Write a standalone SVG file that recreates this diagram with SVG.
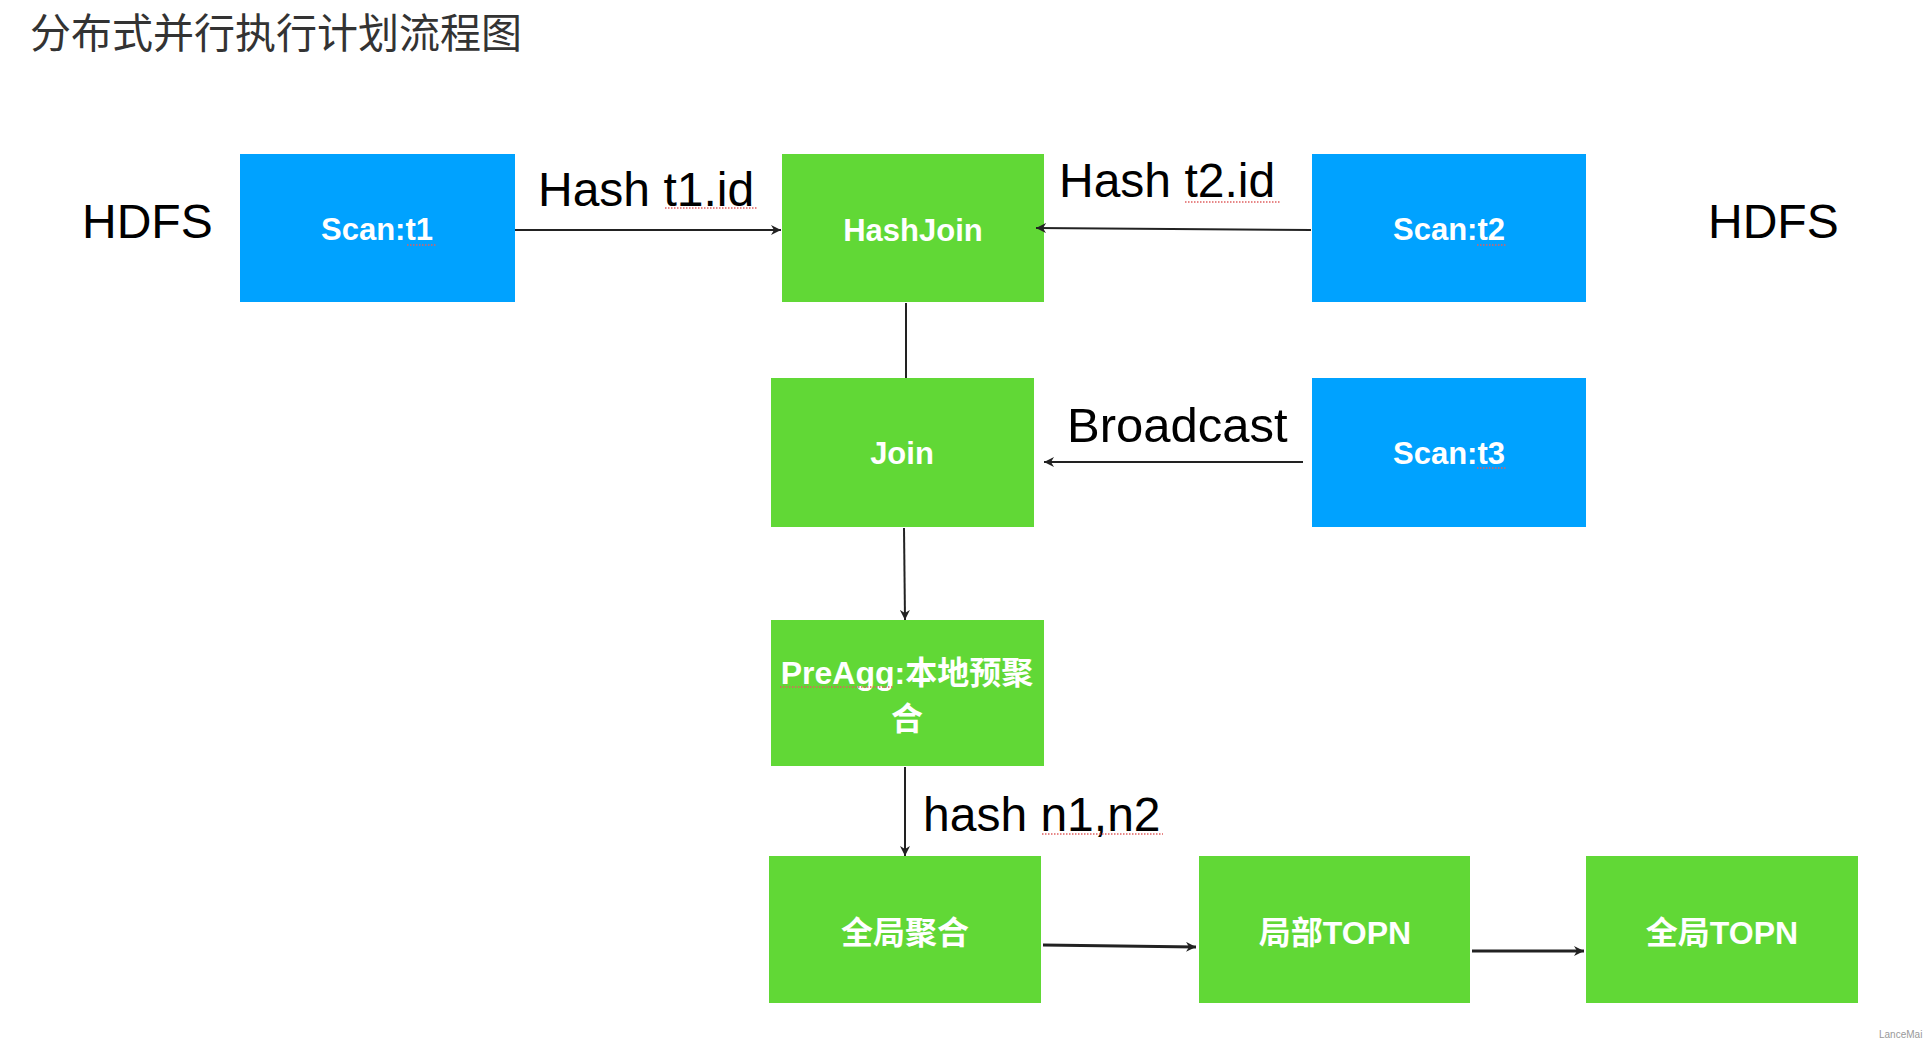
<svg xmlns="http://www.w3.org/2000/svg" width="1932" height="1049" viewBox="0 0 1932 1049">
<style>
.bg{fill:#ffffff}
.blue{fill:#00A2FF}
.green{fill:#61D836}
.lbl{font-family:"Liberation Sans","Noto Sans CJK SC",Arial,sans-serif;font-weight:bold;font-size:31px;fill:#ffffff;text-anchor:middle}
.cjk{font-family:"Liberation Sans","Noto Sans CJK SC",sans-serif;font-weight:bold;font-size:32px;fill:#ffffff;text-anchor:middle}
.big{font-family:"Liberation Sans",Arial,sans-serif;font-size:48px;fill:#000000}
.title{font-family:"Noto Sans CJK SC",sans-serif;font-size:41px;fill:#333333}
.edge{stroke:#222222;stroke-width:2;fill:none}
.edge3{stroke:#222222;stroke-width:3;fill:none}
.spell{stroke:#e06060;stroke-width:1.5;stroke-dasharray:1.5 1.5;fill:none}
.wm{font-family:"Liberation Sans",Arial,sans-serif;font-size:10px;fill:#999999}
</style>
<defs>
<marker id="arr" markerUnits="userSpaceOnUse" markerWidth="12" markerHeight="10" refX="10" refY="5" orient="auto">
<path d="M0,0 L10,5 L0,10 L3,5 z" fill="#222222"/>
</marker>
</defs>
<rect class="bg" x="0" y="0" width="1932" height="1049"/>
<text class="title" x="30" y="48">分布式并行执行计划流程图</text>

<text class="big" x="82" y="238">HDFS</text>
<text class="big" x="1708" y="238">HDFS</text>

<text class="big" x="538" y="206">Hash t1.id</text>
<text class="big" x="1059" y="197">Hash t2.id</text>
<text class="big" x="1067" y="442" style="font-size:49px">Broadcast</text>
<text class="big" x="923" y="831">hash n1,n2</text>

<g id="scan_t1">
<rect class="blue" x="240" y="154" width="275" height="148"/>
<text class="lbl" x="377" y="240">Scan:t1</text>
</g>
<g id="hashjoin">
<rect class="green" x="782" y="154" width="262" height="148"/>
<text class="lbl" x="913" y="241">HashJoin</text>
</g>
<g id="scan_t2">
<rect class="blue" x="1312" y="154" width="274" height="148"/>
<text class="lbl" x="1449" y="240">Scan:t2</text>
</g>
<g id="join">
<rect class="green" x="771" y="378" width="263" height="149"/>
<text class="lbl" x="902" y="464">Join</text>
</g>
<g id="scan_t3">
<rect class="blue" x="1312" y="378" width="274" height="149"/>
<text class="lbl" x="1449" y="464">Scan:t3</text>
</g>
<g id="preagg">
<rect class="green" x="771" y="620" width="273" height="146"/>
<text class="cjk" x="907" y="684">PreAgg:本地预聚</text>
<text class="cjk" x="907" y="730">合</text>
</g>
<g id="global_agg">
<rect class="green" x="769" y="856" width="272" height="147"/>
<text class="cjk" x="905" y="944">全局聚合</text>
</g>
<g id="local_topn">
<rect class="green" x="1199" y="856" width="271" height="147"/>
<text class="cjk" x="1335" y="944">局部TOPN</text>
</g>
<g id="global_topn">
<rect class="green" x="1586" y="856" width="272" height="147"/>
<text class="cjk" x="1722" y="944">全局TOPN</text>
</g>

<g id="connectors">
<line class="edge" x1="515" y1="230" x2="781" y2="230" marker-end="url(#arr)"/>
<line class="edge" x1="1311" y1="230" x2="1036" y2="228" marker-end="url(#arr)"/>
<line class="edge" x1="906" y1="303" x2="906" y2="378"/>
<line class="edge" x1="1303" y1="462" x2="1044" y2="462" marker-end="url(#arr)"/>
<line class="edge" x1="904" y1="528" x2="905" y2="620" marker-end="url(#arr)"/>
<line class="edge" x1="905" y1="767" x2="905" y2="856" marker-end="url(#arr)"/>
<line class="edge3" x1="1043" y1="945" x2="1196" y2="947" marker-end="url(#arr)"/>
<line class="edge3" x1="1472" y1="951" x2="1584" y2="951" marker-end="url(#arr)"/>
</g>

<g id="spellcheck">
<line class="spell" x1="665" y1="208" x2="758" y2="208"/>
<line class="spell" x1="407" y1="245" x2="436" y2="245"/>
<line class="spell" x1="1185" y1="202" x2="1280" y2="202"/>
<line class="spell" x1="1477" y1="245" x2="1507" y2="245"/>
<line class="spell" x1="1477" y1="468" x2="1507" y2="468"/>
<line class="spell" x1="780" y1="687" x2="893" y2="687"/>
<line class="spell" x1="1042" y1="834" x2="1163" y2="834"/>
</g>

<text class="wm" x="1879" y="1038">LanceMai</text>
</svg>
